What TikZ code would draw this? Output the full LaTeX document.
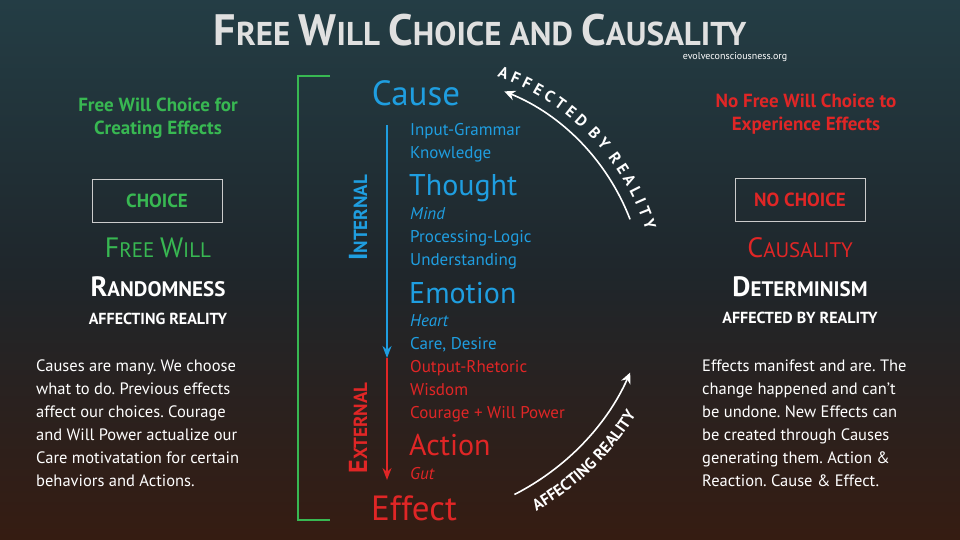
\documentclass[tikz,border=0pt]{standalone}
\usepackage{fontspec}
\setmainfont{PT Sans}
\usetikzlibrary{decorations.text,arrows.meta}
\definecolor{bgtop}{rgb}{0.14,0.24,0.27}
\definecolor{bgbot}{rgb}{0.21,0.11,0.07}
\definecolor{bgmid}{rgb}{0.12,0.15,0.17}
\definecolor{cgreen}{rgb}{0.22,0.72,0.32}
\definecolor{cred}{rgb}{0.88,0.15,0.15}
\definecolor{cblue}{rgb}{0.12,0.62,0.88}
\definecolor{ctitle}{rgb}{0.88,0.88,0.88}
\newcommand{\fs}[1]{\fontsize{#1}{#1}\selectfont}
\newcommand{\scx}[4]{{\fs{#1}#3}{\fs{#2}#4}}
\begin{document}
\frenchspacing
\begin{tikzpicture}[x=1pt,y=1pt,
  sm/.style={anchor=base west,inner sep=0pt,font=\fs{17}},
  big/.style={anchor=base west,inner sep=0pt,font=\fs{30}},
  ctr/.style={inner sep=0pt,align=center},
  para/.style={anchor=north west,inner sep=0pt,align=left,text=white,font=\fontsize{16.5}{23}\selectfont},
  boxst/.style={draw=white!80!black,line width=0.8pt,minimum width=130pt,minimum height=43pt,font=\bfseries\fs{19}},
  arc/.style={white,line width=1.6pt,-{Stealth[length=11pt,width=10pt]}}]
\useasboundingbox (0,0) rectangle (960,540);
\shade[top color=bgtop,bottom color=bgbot,middle color=bgmid] (0,0) rectangle (960,540);
% title
\node[ctr,text=ctitle,font=\bfseries] (title) at (480,510) {\scx{44}{33}{F}{REE }\scx{44}{33}{W}{ILL }\scx{44}{33}{C}{HOICE AND }\scx{44}{33}{C}{AUSALITY}};
\node[ctr,text=white,font=\fs{10}] (url) at (735,483) {evolveconsciousness.org};
% left
\node[ctr,text=cgreen,font=\bfseries\fs{19}] (lh) at (158,422) {Free Will Choice for\\[4pt]Creating Effects};
\node[boxst,text=cgreen] (lbox) at (157,339) {CHOICE};
\node[ctr,text=cgreen] (fw) at (158,292) {\scx{28}{21}{F}{REE }\scx{28}{21}{W}{ILL}};
\node[ctr,text=white,font=\bfseries] (rnd) at (158,253) {\scx{28}{21}{R}{ANDOMNESS}};
\node[ctr,text=white,font=\bfseries\fs{16}] (afr) at (158,221) {AFFECTING REALITY};
\node[para] (lp) at (36,180) {Causes are many. We choose\\what to do. Previous effects\\affect our choices. Courage\\and Will Power actualize our\\Care motivatation for certain\\behaviors and Actions.};
% right
\node[ctr,text=cred,font=\bfseries\fs{19}] (rh) at (806,426) {No Free Will Choice to\\[4pt]Experience Effects};
\node[boxst,text=cred] (rbox) at (800,340) {NO CHOICE};
\node[ctr,text=cred] (cau) at (800,292) {\scx{28}{21}{C}{AUSALITY}};
\node[ctr,text=white,font=\bfseries] (det) at (800,253) {\scx{28}{21}{D}{ETERMINISM}};
\node[ctr,text=white,font=\bfseries\fs{16}] (abr) at (800,222) {AFFECTED BY REALITY};
\node[para] (rp) at (702,180) {Effects manifest and are. The\\change happened and can't\\be undone. New Effects can\\be created through Causes\\generating them. Action \&\\Reaction. Cause \& Effect.};
% bracket
\coordinate (b1) at (330,464); \coordinate (b2) at (330,20);
\draw[cgreen,line width=1.2pt] (b1) -- (298,464) -- (298,20) -- (b2);
% center
\node[ctr,text=cblue,font=\fs{35}] (cause) at (416,447) {Cause};
\node[ctr,text=cred,font=\fs{35}] (effect) at (414,32) {Effect};
\coordinate (a1) at (387,415); \coordinate (am) at (387,182); \coordinate (a2) at (387,60);
\draw[cblue,line width=1.6pt,-{Stealth[length=12pt,width=9pt]}] (a1) -- (am);
\draw[cred,line width=1.6pt,-{Stealth[length=12pt,width=9pt]}] (am) -- (a2);
\node[ctr,text=cblue,font=\bfseries,rotate=90] (int) at (358,322) {\scx{26}{19}{I}{NTERNAL}};
\node[ctr,text=cred,font=\bfseries,rotate=90] (ext) at (358,112) {\scx{26}{19}{E}{XTERNAL}};
\begin{scope}[text=cblue]
\node[sm] (t1) at (410,404) {Input-Grammar};
\node[sm] (t2) at (410,381) {Knowledge};
\node[big] (t3) at (409,344) {Thought};
\node[sm,font=\fs{17}\itshape] (t4) at (410,320) {Mind};
\node[sm] (t5) at (410,297) {Processing-Logic};
\node[sm] (t6) at (410,274) {Understanding};
\node[big] (t7) at (409,236) {Emotion};
\node[sm,font=\fs{17}\itshape] (t8) at (410,213) {Heart};
\node[sm] (t9) at (410,190) {Care, Desire};
\end{scope}
\begin{scope}[text=cred]
\node[sm] (t10) at (410,167) {Output-Rhetoric};
\node[sm] (t11) at (410,144) {Wisdom};
\node[sm] (t12) at (410,121) {Courage + Will Power};
\node[big] (t13) at (409,84) {Action};
\node[sm,font=\fs{17}\itshape] (t14) at (410,60) {Gut};
\end{scope}
% arcs
\coordinate (c1) at (420,240);
\draw[arc] ([shift={(21:225)}]c1) arc[start angle=21,end angle=68,radius=225] coordinate (arcend1);
\path[decorate,decoration={text along path,text align=center,
  text={|\color{white}\bfseries\fs{16}|A F F E C T E D{ }{ }B Y{ }{ }R E A L I T Y}}]
  ([shift={(78:236)}]c1) arc[start angle=78,end angle=10,radius=236];
\coordinate (c2) at (400,270);
\draw[arc] ([shift={(-63:252)}]c2) arc[start angle=-63,end angle=-24,radius=252] coordinate (arcend2);
\path[decorate,decoration={text along path,text align=center,
  text={|\color{white}\bfseries\fs{16}|AFFECTING REALITY}}]
  ([shift={(-69:277)}]c2) arc[start angle=-69,end angle=-23,radius=277];
\end{tikzpicture}
\end{document}
